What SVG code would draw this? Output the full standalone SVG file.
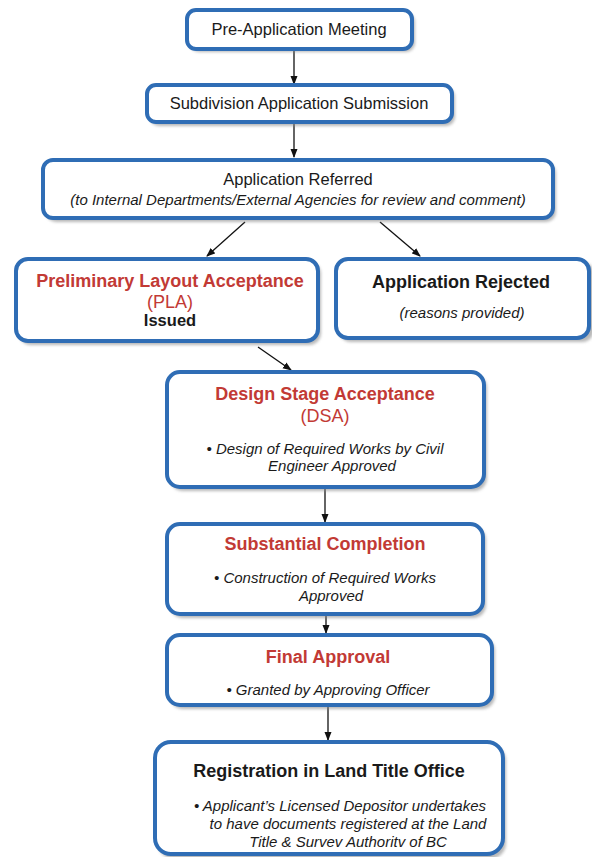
<svg xmlns="http://www.w3.org/2000/svg" width="592" height="857" viewBox="0 0 592 857">
<style>
.box{fill:#fff;stroke:#2f6db5;stroke-width:4}
.sh{fill:#8a8a8a;opacity:0.6}
.t{font-family:"Liberation Sans",Arial,Helvetica,sans-serif;text-anchor:middle;fill:#1a1a1a}
.n{font-size:16.5px}
.h{font-size:18px;font-weight:bold}
.p{font-size:18px}
.red{fill:#c23a35}
.i{font-style:italic;font-size:15px}
.c{stroke:#111;stroke-width:1.3;fill:none;marker-end:url(#ah)}
</style>
<defs>
<marker id="ah" markerWidth="9" markerHeight="8" refX="8" refY="4" orient="auto" markerUnits="userSpaceOnUse">
<path d="M0,0.5 L9,4 L0,7.5 Z" fill="#111"/>
</marker>
<filter id="bl" x="-10%" y="-10%" width="120%" height="130%"><feGaussianBlur stdDeviation="1.5"/></filter>
</defs>
<rect width="592" height="857" fill="#fff"/>
<g id="connectors">
<line class="c" x1="294" y1="50" x2="294" y2="84"/>
<line class="c" x1="294" y1="123" x2="294" y2="157"/>
<line class="c" x1="245" y1="222" x2="207" y2="256"/>
<line class="c" x1="380" y1="222" x2="420" y2="256"/>
<line class="c" x1="258" y1="347" x2="291" y2="370"/>
<line class="c" x1="325" y1="488" x2="325" y2="522"/>
<line class="c" x1="326" y1="604" x2="326" y2="633"/>
<line class="c" x1="328" y1="704" x2="328" y2="740"/>
</g>
<g id="n1">
<rect class="sh" x="190" y="13" width="225" height="39" rx="9" filter="url(#bl)"/>
<rect class="box" x="187" y="10" width="225" height="39" rx="9"/>
<text class="t n" x="299" y="35">Pre-Application Meeting</text>
</g>
<g id="n2">
<rect class="sh" x="150" y="88" width="305" height="38" rx="9" filter="url(#bl)"/>
<rect class="box" x="147" y="85" width="305" height="37" rx="9"/>
<text class="t n" x="299" y="109">Subdivision Application Submission</text>
</g>
<g id="n3">
<rect class="sh" x="46" y="163" width="510" height="59" rx="10" filter="url(#bl)"/>
<rect class="box" x="43" y="160" width="510" height="58" rx="10"/>
<text class="t n" x="298" y="185">Application Referred</text>
<text class="t i" x="298" y="205">(to Internal Departments/External Agencies for review and comment)</text>
</g>
<g id="n4">
<rect class="sh" x="19" y="262" width="302" height="83" rx="12" filter="url(#bl)"/>
<rect class="box" x="16" y="259" width="302" height="82" rx="12"/>
<text class="t h red" x="170" y="287">Preliminary Layout Acceptance</text>
<text class="t p red" x="170" y="308">(PLA)</text>
<text class="t n" x="170" y="326" font-weight="bold">Issued</text>
</g>
<g id="n5">
<rect class="sh" x="339" y="262" width="255" height="80" rx="12" filter="url(#bl)"/>
<rect class="box" x="336" y="259" width="253" height="79" rx="12"/>
<text class="t h" x="461" y="288">Application Rejected</text>
<text class="t i" x="462" y="318" font-size="14.5">(reasons provided)</text>
</g>
<g id="n6">
<rect class="sh" x="170" y="375" width="317" height="116" rx="13" filter="url(#bl)"/>
<rect class="box" x="167" y="372" width="317" height="115" rx="13"/>
<text class="t h red" x="325" y="400">Design Stage Acceptance</text>
<text class="t p red" x="325" y="422">(DSA)</text>
<text class="t i" x="325" y="454">• Design of Required Works by Civil</text>
<text class="t i" x="332" y="471">Engineer Approved</text>
</g>
<g id="n7">
<rect class="sh" x="170" y="527" width="316" height="91" rx="13" filter="url(#bl)"/>
<rect class="box" x="167" y="524" width="316" height="90" rx="13"/>
<text class="t h red" x="325" y="550">Substantial Completion</text>
<text class="t i" x="325" y="583">• Construction of Required Works</text>
<text class="t i" x="331" y="601">Approved</text>
</g>
<g id="n8">
<rect class="sh" x="170" y="638" width="325" height="71" rx="13" filter="url(#bl)"/>
<rect class="box" x="167" y="635" width="325" height="70" rx="13"/>
<text class="t h red" x="328" y="663">Final Approval</text>
<text class="t i" x="328" y="695">• Granted by Approving Officer</text>
</g>
<g id="n9">
<rect class="sh" x="158" y="745" width="348" height="114" rx="16" filter="url(#bl)"/>
<rect class="box" x="155" y="742" width="348" height="112" rx="16"/>
<text class="t h" x="329" y="777">Registration in Land Title Office</text>
<text class="t i" x="340" y="811">• Applicant’s Licensed Depositor undertakes</text>
<text class="t i" x="348" y="829">to have documents registered at the Land</text>
<text class="t i" x="348" y="847">Title &amp; Survev Authoritv of BC</text>
</g>
</svg>
